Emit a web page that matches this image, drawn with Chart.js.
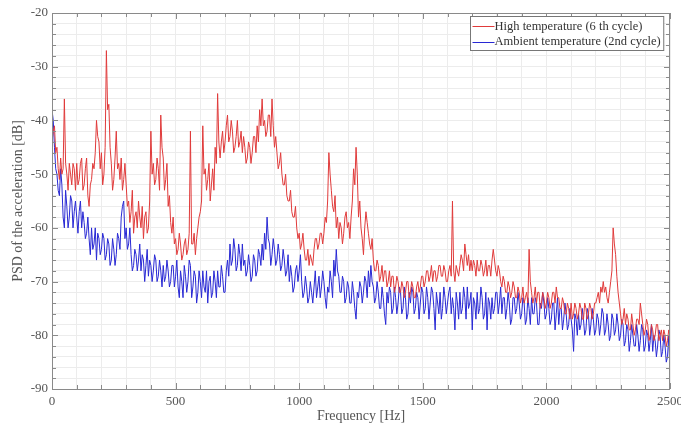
<!DOCTYPE html>
<html>
<head>
<meta charset="utf-8">
<title>PSD of the acceleration</title>
<script src="https://cdn.jsdelivr.net/npm/chart.js@4.4.1/dist/chart.umd.min.js"></script>
<style>
  html, body { margin: 0; padding: 0; background: #fff; }
  #chart { display: block; }
</style>
</head>
<body>
<canvas id="chart" width="681" height="425"></canvas>
<script>
"use strict";

// ── Data ──────────────────────────────────────────────────────────────────────
// *At = values at 0, 10, 20 … 2500 Hz; *Mid = values at 5, 15 … 2495 Hz
// (the mid values catch the other side of the noise band)
const STEP_HZ = 10;

const highTempAt = [
  -44, -41, -45, -51, -50, -36, -50, -48, -52, -49,   // 0
  -48, -51, -47, -52, -47, -56, -51, -49, -40, -44,   // 100
  -46, -50, -27, -37, -48, -51, -42, -48, -47, -51,   // 200
  -52, -55, -57, -61, -57, -55, -60, -62, -57, -60,   // 300
  -42, -48, -51, -49, -39, -47, -51, -56, -59, -58,   // 400
  -62, -64, -63, -65, -62, -64, -42, -63, -65, -60,   // 500
  -57, -41, -49, -51, -55, -49, -45, -35, -47, -42,   // 600
  -44, -39, -43, -42, -45, -40, -44, -46, -45, -47,   // 700
  -45, -46, -43, -41, -38, -36, -40, -42, -39, -36,   // 800
  -45, -46, -48, -50, -52, -54, -55, -57, -58, -60,   // 900
  -61, -63, -64, -66, -67, -66, -64, -62, -63, -61,   // 1000
  -61, -59, -46, -53, -57, -60, -62, -60, -61, -57,   // 1100
  -59, -58, -49, -45, -58, -60, -65, -57, -61, -64,   // 1200
  -66, -68, -67, -69, -70, -68, -70, -71, -69, -71,   // 1300
  -70, -72, -71, -72, -70, -72, -71, -73, -70, -71,   // 1400
  -69, -70, -68, -69, -70, -68, -69, -67, -69, -68,   // 1500
  -70, -67, -55, -70, -68, -67, -66, -63, -67, -68,   // 1600
  -68, -67, -66, -68, -67, -68, -69, -67, -66, -66,   // 1700
  -69, -68, -71, -70, -72, -71, -72, -71, -73, -72,   // 1800
  -73, -74, -72, -64, -72, -73, -74, -72, -74, -73,   // 1900
  -74, -73, -74, -72, -71, -73, -75, -74, -76, -75,   // 2000
  -74, -76, -75, -76, -75, -77, -75, -76, -75, -76,   // 2100
  -74, -72, -71, -70, -71, -74, -70, -60, -65, -72,   // 2200
  -76, -77, -78, -77, -79, -78, -79, -77, -74, -78,   // 2300
  -79, -78, -80, -79, -80, -78, -80, -81, -80, -81,   // 2400
  -80                                                  // 2500
];

const highTempMid = [
  -42, -46, -49, -47, -49, -48, -53, -50, -48, -53,   // 5
  -52, -48, -53, -49, -54, -52, -48, -46, -43, -49,   // 105
  -52, -45, -38, -45, -53, -47, -49, -51, -53, -48,   // 205
  -56, -59, -53, -58, -60, -58, -56, -58, -61, -55,   // 305
  -50, -52, -47, -53, -45, -53, -48, -54, -61, -63,   // 405
  -65, -61, -66, -63, -65, -61, -63, -61, -62, -58,   // 505
  -55, -50, -53, -48, -52, -53, -48, -44, -44, -46,   // 605
  -41, -44, -40, -46, -43, -45, -42, -43, -48, -44,   // 705
  -48, -43, -46, -44, -41, -41, -43, -39, -43, -41,   // 805
  -43, -49, -46, -52, -50, -55, -53, -58, -56, -62,   // 905
  -64, -61, -66, -64, -65, -67, -62, -64, -61, -63,   // 1005
  -58, -55, -50, -56, -54, -58, -59, -63, -58, -60,   // 1105
  -62, -55, -52, -50, -55, -62, -60, -59, -63, -62,   // 1205
  -68, -66, -70, -67, -68, -71, -68, -69, -72, -69,   // 1305
  -72, -70, -73, -70, -73, -70, -73, -71, -72, -69,   // 1405
  -71, -68, -70, -67, -68, -70, -67, -69, -67, -70,   // 1505
  -68, -69, -68, -67, -69, -65, -68, -65, -65, -66,   // 1605
  -66, -69, -68, -66, -69, -66, -67, -69, -64, -68,   // 1705
  -67, -70, -69, -72, -70, -73, -70, -73, -71, -74,   // 1805
  -71, -73, -74, -70, -74, -71, -72, -75, -72, -75,   // 1905
  -72, -75, -72, -74, -73, -75, -73, -76, -74, -77,   // 2005
  -77, -74, -77, -74, -77, -74, -77, -74, -77, -74,   // 2105
  -73, -74, -72, -72, -73, -72, -68, -63, -69, -74,   // 2205
  -78, -75, -76, -79, -76, -80, -77, -78, -76, -80,   // 2305
  -77, -81, -78, -81, -78, -81, -79, -79, -82, -79    // 2405
];

const ambientAt = [
  -38, -45, -50, -54, -52, -60, -56, -58, -55, -57,   // 0
  -58, -57, -60, -59, -61, -62, -60, -63, -66, -62,   // 100
  -64, -62, -65, -63, -66, -64, -65, -62, -58, -55,   // 200
  -60, -63, -65, -67, -65, -66, -68, -66, -67, -69,   // 300
  -67, -68, -66, -69, -68, -67, -69, -68, -70, -67,   // 400
  -69, -71, -68, -73, -69, -70, -67, -71, -69, -72,   // 500
  -70, -68, -72, -74, -69, -72, -70, -68, -71, -69,   // 600
  -72, -66, -63, -66, -64, -67, -65, -63, -66, -68,   // 700
  -67, -69, -66, -68, -65, -63, -61, -58, -63, -65,   // 800
  -64, -66, -65, -67, -66, -68, -70, -69, -71, -67,   // 900
  -68, -70, -72, -71, -73, -72, -71, -73, -69, -71,   // 1000
  -70, -75, -72, -70, -66, -64, -69, -72, -70, -73,   // 1100
  -71, -74, -72, -77, -73, -71, -72, -70, -68, -67,   // 1200
  -71, -73, -72, -75, -73, -78, -74, -72, -75, -73,   // 1300
  -74, -72, -75, -73, -76, -74, -72, -75, -73, -74,   // 1400
  -72, -75, -73, -74, -72, -79, -74, -72, -75, -73,   // 1500
  -74, -71, -73, -79, -74, -72, -75, -73, -71, -74,   // 1600
  -79, -74, -72, -75, -73, -76, -79, -74, -73, -75,   // 1700
  -72, -74, -76, -73, -75, -74, -77, -73, -75, -74,   // 1800
  -76, -74, -77, -75, -73, -76, -74, -78, -75, -74,   // 1900
  -76, -75, -77, -74, -76, -78, -75, -77, -76, -78,   // 2000
  -77, -83, -77, -76, -78, -77, -79, -76, -78, -77,   // 2100
  -79, -77, -78, -76, -79, -78, -80, -77, -79, -78,   // 2200
  -80, -78, -81, -79, -81, -80, -82, -80, -81, -79,   // 2300
  -82, -80, -81, -83, -81, -82, -80, -83, -82, -84,   // 2400
  -87                                                  // 2500
];

const ambientMid = [
  -40, -49, -53, -49, -58, -53, -60, -54, -60, -55,   // 5
  -61, -55, -57, -62, -58, -65, -64, -60, -61, -65,   // 105
  -61, -66, -62, -67, -62, -67, -61, -64, -56, -62,   // 205
  -64, -60, -68, -64, -68, -63, -65, -70, -64, -66,   // 305
  -70, -65, -70, -66, -71, -70, -66, -71, -67, -71,   // 405
  -66, -73, -70, -67, -72, -66, -73, -68, -74, -68,   // 505
  -73, -71, -68, -70, -73, -68, -73, -71, -67, -72,   // 605
  -68, -69, -67, -62, -68, -63, -68, -67, -69, -65,   // 705
  -70, -65, -69, -64, -67, -66, -64, -62, -67, -62,   // 805
  -67, -63, -68, -64, -69, -65, -67, -72, -68, -70,   // 905
  -65, -73, -69, -74, -70, -74, -68, -71, -73, -68,   // 1005
  -73, -71, -68, -73, -69, -68, -72, -69, -74, -70,   // 1105
  -74, -70, -75, -72, -70, -74, -69, -73, -71, -70,   // 1205
  -74, -70, -75, -71, -76, -72, -71, -76, -71, -76,   // 1305
  -71, -76, -71, -77, -72, -71, -76, -72, -77, -71,   // 1405
  -76, -71, -77, -71, -75, -72, -76, -77, -71, -76,   // 1505
  -72, -76, -75, -72, -77, -76, -71, -77, -75, -72,   // 1605
  -73, -77, -76, -71, -77, -72, -73, -77, -76, -72,   // 1705
  -76, -71, -73, -77, -72, -78, -73, -76, -72, -77,   // 1805
  -73, -78, -73, -78, -76, -73, -78, -74, -72, -77,   // 1905
  -73, -78, -74, -79, -73, -75, -79, -74, -79, -75,   // 2005
  -79, -76, -80, -79, -75, -80, -75, -80, -75, -80,   // 2105
  -76, -80, -75, -80, -76, -81, -76, -80, -76, -81,   // 2205
  -77, -82, -78, -83, -78, -82, -78, -83, -78, -83,   // 2305
  -79, -83, -78, -80, -84, -79, -84, -80, -85, -80    // 2405
];

const seriesLabels = ["High temperature (6 th cycle)", "Ambient temperature (2nd cycle)"];
const seriesColors = ["#e03a3a", "#2828d4"];

const xRange = [0, 2500];
const yRange = [-90, -20];

// ── Helpers ───────────────────────────────────────────────────────────────────
function toPoints(at, mid) {
  const pts = [];
  at.forEach((v, i) => {
    pts.push({ x: i * STEP_HZ, y: v });
    if (i < mid.length) pts.push({ x: i * STEP_HZ + STEP_HZ / 2, y: mid[i] });
  });
  return pts;
}

const SERIF = "'Liberation Serif', 'DejaVu Serif', serif";
const TEXT  = "#555";

// inner frame + inward tick marks on all four sides, legend box top-right
const framePlugin = {
  id: "frame",
  afterDatasetsDraw(chart) {
    const { ctx, chartArea: a, scales: { x, y } } = chart;
    ctx.save();
    ctx.strokeStyle = "#8a8a8a";
    ctx.lineWidth = 1;
    ctx.strokeRect(Math.round(a.left) + 0.5, Math.round(a.top) + 0.5,
                   Math.round(a.width) - 1, Math.round(a.height));

    ctx.beginPath();
    for (let v = xRange[0]; v <= xRange[1]; v += 100) {
      const px = Math.round(x.getPixelForValue(v)) + 0.5;
      const len = v % 500 === 0 ? 6 : 4;
      ctx.moveTo(px, a.bottom); ctx.lineTo(px, a.bottom - len);
      ctx.moveTo(px, a.top);    ctx.lineTo(px, a.top + len);
    }
    for (let v = yRange[0]; v <= yRange[1]; v += 2) {
      const py = Math.round(y.getPixelForValue(v)) + 0.5;
      const len = v % 10 === 0 ? 6 : 4;
      ctx.moveTo(a.left, py);  ctx.lineTo(a.left + len, py);
      ctx.moveTo(a.right, py); ctx.lineTo(a.right - len, py);
    }
    ctx.stroke();

    // legend
    ctx.font = "12.5px " + SERIF;
    const lineLen = 22, rowH = 15.5;
    const textW = Math.max(...seriesLabels.map(t => ctx.measureText(t).width));
    const boxW = 2 + lineLen + textW + 3;
    const boxH = rowH * seriesLabels.length + 3;
    const bx = Math.round(a.right - 7 - boxW) + 0.5;
    const by = Math.round(a.top + 3) + 0.5;
    ctx.fillStyle = "#fff";
    ctx.fillRect(bx, by, boxW, boxH);
    ctx.strokeStyle = "#777";
    ctx.strokeRect(bx, by, boxW, boxH);
    ctx.textBaseline = "middle";
    seriesLabels.forEach((label, i) => {
      const cy = by + 2 + rowH * (i + 0.5);
      ctx.strokeStyle = seriesColors[i];
      ctx.beginPath();
      ctx.moveTo(bx + 2, Math.round(cy) + 0.5);
      ctx.lineTo(bx + 2 + lineLen, Math.round(cy) + 0.5);
      ctx.stroke();
      ctx.fillStyle = "#333";
      ctx.fillText(label, bx + 2 + lineLen, cy);
    });
    ctx.restore();
  },
};

// ── Chart ─────────────────────────────────────────────────────────────────────
const ctx = document.getElementById("chart").getContext("2d");
new Chart(ctx, {
  type: "line",
  data: {
    datasets: [[highTempAt, highTempMid], [ambientAt, ambientMid]].map(([at, mid], i) => ({
      label:       seriesLabels[i],
      data:        toPoints(at, mid),
      borderColor: seriesColors[i],
      borderWidth: 1,
      pointRadius: 0,
      tension:     0,
      fill:        false,
    })),
  },
  options: {
    responsive: false,
    animation:  false,
    layout: { padding: { left: 0, right: 11, top: 13, bottom: 0 } },
    plugins: {
      legend:  { display: false },
      tooltip: { enabled: false },
    },
    scales: {
      x: {
        type: "linear",
        min: xRange[0],
        max: xRange[1],
        afterFit: s => { s.height = 36; s.paddingLeft = 0; s.paddingRight = 0; },
        border: { display: false },
        grid:  { color: "#ececec", drawTicks: false },
        ticks: {
          stepSize: 100,
          autoSkip: false,
          maxRotation: 0,
          padding: 5,
          color: TEXT,
          font: { family: SERIF, size: 13 },
          callback: v => (v % 500 === 0 ? String(v) : ""),
        },
        title: {
          display: true,
          text: "Frequency [Hz]",
          color: TEXT,
          font: { family: SERIF, size: 14 },
          padding: { top: 0, bottom: 0 },
        },
      },
      y: {
        min: yRange[0],
        max: yRange[1],
        afterFit: s => { s.width = 52; s.paddingTop = 0; s.paddingBottom = 0; },
        border: { display: false },
        grid:  { color: "#ececec", drawTicks: false },
        ticks: {
          stepSize: 2,
          autoSkip: false,
          padding: 4,
          color: TEXT,
          font: { family: SERIF, size: 13 },
          callback: v => (v % 10 === 0 ? String(v) : ""),
        },
        title: {
          display: true,
          text: "PSD of the acceleration [dB]",
          color: TEXT,
          font: { family: SERIF, size: 14 },
          padding: { top: 10, bottom: 0 },
        },
      },
    },
  },
  plugins: [framePlugin],
});
</script>
</body>
</html>
